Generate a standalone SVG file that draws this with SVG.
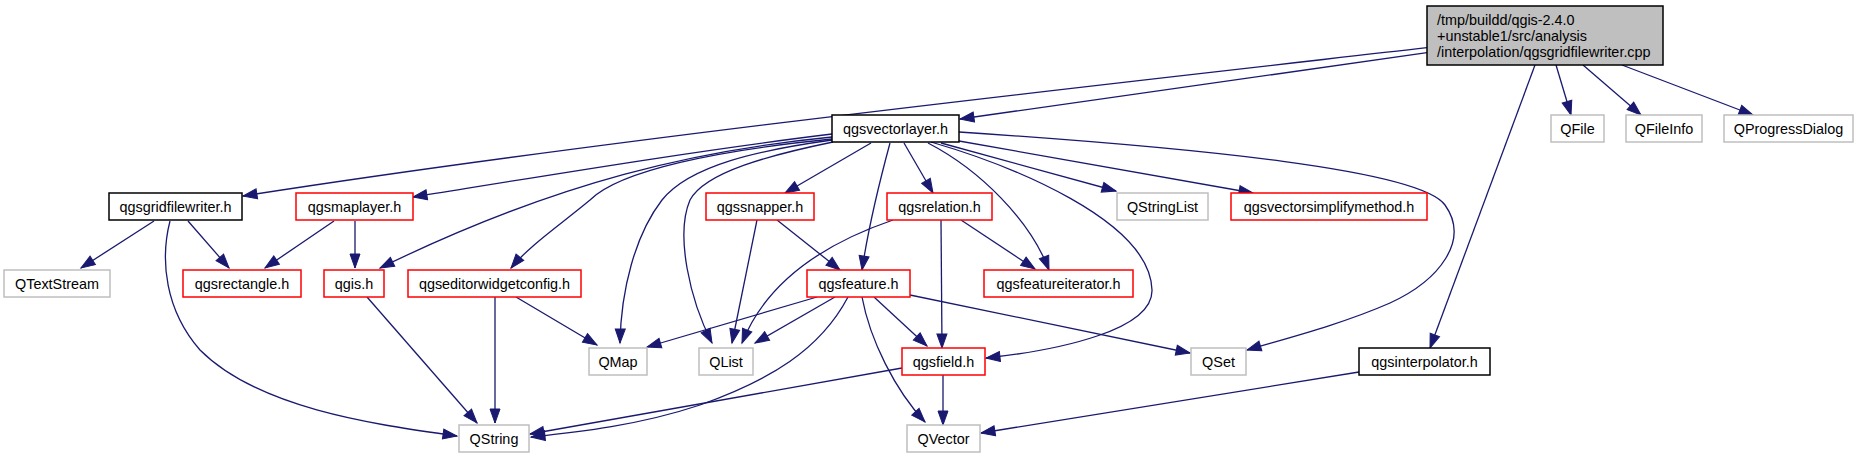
<svg xmlns="http://www.w3.org/2000/svg" width="1859" height="459" viewBox="0 0 1859 459">
<style>
.n rect{fill:#ffffff;stroke-width:1.5}
.b rect{stroke:#000000}
.r rect{stroke:#ff0000}
.g rect{stroke:#bfbfbf}
.top rect{fill:#bfbfbf;stroke:#000000;stroke-width:1.5}
text{font-family:"Liberation Sans",Arial,sans-serif;font-size:14.4px;fill:#000000}
.n text{text-anchor:middle}
#edges path{fill:none;stroke:#191970;stroke-width:1.3;marker-end:url(#ah)}
</style>
<defs>
<marker id="ah" markerUnits="userSpaceOnUse" markerWidth="15" markerHeight="11" refX="14" refY="5" orient="auto" overflow="visible">
<path d="M0,0 L14,5 L0,10 z" fill="#191970" stroke="#191970" stroke-width="1"/>
</marker>
</defs>
<rect x="0" y="0" width="1859" height="459" fill="#ffffff"/>
<g id="edges">
<path d="M1427,47.7 C1100,85 600,140 243,196"/>
<path d="M1427,52.7 L960,119"/>
<path d="M1556,65 L1571,115"/>
<path d="M1583,65 L1641,115"/>
<path d="M1622,65 L1753,115"/>
<path d="M1535,65 L1430,348"/>
<path d="M871,143 L785,193"/>
<path d="M890,143 C880,180 868,230 862,270"/>
<path d="M904,143 L933,193"/>
<path d="M928,143 C980,170 1030,220 1049,270"/>
<path d="M931,142 C1010,165 1150,220 1152,290 C1153,330 1060,350 986,358"/>
<path d="M941,143 L1116,191"/>
<path d="M959,141 L1253,193"/>
<path d="M959,132 C1200,148 1420,170 1445,205 C1470,240 1440,280 1390,303 C1340,325 1280,340 1247,350"/>
<path d="M832,134 C700,150 550,175 413,197"/>
<path d="M832,137 C700,150 560,180 380,268"/>
<path d="M832,139 C720,150 620,170 590,200 C560,225 530,245 511,268"/>
<path d="M832,140 C760,150 690,165 662,200 C635,235 621,290 620,343"/>
<path d="M833,142 C770,155 705,172 690,200 C675,235 690,300 712,343"/>
<path d="M154,221 L81,268"/>
<path d="M188,221 L229,268"/>
<path d="M170,221 C160,260 165,310 200,350 C260,410 380,425 457,436"/>
<path d="M334,221 L265,268"/>
<path d="M355,221 L355,268"/>
<path d="M367,297 L477,423"/>
<path d="M495,297 L495,423"/>
<path d="M516,297 L597,345"/>
<path d="M757,220 L732,343"/>
<path d="M777,220 L840,270"/>
<path d="M893,220 C820,245 765,285 742,343"/>
<path d="M941,220 L942,348"/>
<path d="M961,220 L1035,269"/>
<path d="M817,297 L647,347"/>
<path d="M835,297 L755,343"/>
<path d="M848,297 C820,350 770,380 700,405 C640,425 580,432 531,437"/>
<path d="M862,297 C870,340 895,390 925,422"/>
<path d="M874,297 L927,346"/>
<path d="M910,295 L1190,353"/>
<path d="M902,368 L530,434"/>
<path d="M943,375 L943,425"/>
<path d="M1359,372 L981,433"/>
</g>
<g id="node-cpp" class="top">
<rect x="1427" y="6" width="236" height="59"/>
<text x="1437" y="25">/tmp/buildd/qgis-2.4.0</text>
<text x="1437" y="41">+unstable1/src/analysis</text>
<text x="1437" y="57">/interpolation/qgsgridfilewriter.cpp</text>
</g>
<g id="node-qgsvectorlayer" class="n b"><rect x="832" y="115" width="127" height="27"/><text x="895.5" y="133.5">qgsvectorlayer.h</text></g>
<g id="node-QFile" class="n g"><rect x="1551" y="115" width="53" height="27"/><text x="1577.5" y="133.5">QFile</text></g>
<g id="node-QFileInfo" class="n g"><rect x="1626" y="115" width="76" height="27"/><text x="1664" y="133.5">QFileInfo</text></g>
<g id="node-QProgressDialog" class="n g"><rect x="1724" y="115" width="129" height="27"/><text x="1788.5" y="133.5">QProgressDialog</text></g>
<g id="node-qgsgridfilewriter" class="n b"><rect x="109" y="193" width="133" height="27"/><text x="175.5" y="211.5">qgsgridfilewriter.h</text></g>
<g id="node-qgsmaplayer" class="n r"><rect x="296" y="193" width="117" height="27"/><text x="354.5" y="211.5">qgsmaplayer.h</text></g>
<g id="node-qgssnapper" class="n r"><rect x="706" y="193" width="108" height="27"/><text x="760" y="211.5">qgssnapper.h</text></g>
<g id="node-qgsrelation" class="n r"><rect x="887" y="193" width="105" height="27"/><text x="939.5" y="211.5">qgsrelation.h</text></g>
<g id="node-QStringList" class="n g"><rect x="1117" y="193" width="91" height="27"/><text x="1162.5" y="211.5">QStringList</text></g>
<g id="node-qgsvectorsimplifymethod" class="n r"><rect x="1231" y="193" width="196" height="27"/><text x="1329" y="211.5">qgsvectorsimplifymethod.h</text></g>
<g id="node-QTextStream" class="n g"><rect x="4" y="270" width="106" height="27"/><text x="57" y="288.5">QTextStream</text></g>
<g id="node-qgsrectangle" class="n r"><rect x="183" y="270" width="118" height="27"/><text x="242" y="288.5">qgsrectangle.h</text></g>
<g id="node-qgis" class="n r"><rect x="324" y="270" width="60" height="27"/><text x="354" y="288.5">qgis.h</text></g>
<g id="node-qgseditorwidgetconfig" class="n r"><rect x="408" y="270" width="173" height="27"/><text x="494.5" y="288.5">qgseditorwidgetconfig.h</text></g>
<g id="node-qgsfeature" class="n r"><rect x="807" y="270" width="103" height="27"/><text x="858.5" y="288.5">qgsfeature.h</text></g>
<g id="node-qgsfeatureiterator" class="n r"><rect x="984" y="270" width="149" height="27"/><text x="1058.5" y="288.5">qgsfeatureiterator.h</text></g>
<g id="node-QMap" class="n g"><rect x="589" y="348" width="58" height="27"/><text x="618" y="366.5">QMap</text></g>
<g id="node-QList" class="n g"><rect x="699" y="348" width="54" height="27"/><text x="726" y="366.5">QList</text></g>
<g id="node-qgsfield" class="n r"><rect x="902" y="348" width="83" height="27"/><text x="943.5" y="366.5">qgsfield.h</text></g>
<g id="node-QSet" class="n g"><rect x="1191" y="348" width="55" height="27"/><text x="1218.5" y="366.5">QSet</text></g>
<g id="node-qgsinterpolator" class="n b"><rect x="1359" y="348" width="131" height="27"/><text x="1424.5" y="366.5">qgsinterpolator.h</text></g>
<g id="node-QString" class="n g"><rect x="459" y="425" width="70" height="27"/><text x="494" y="443.5">QString</text></g>
<g id="node-QVector" class="n g"><rect x="907" y="425" width="73" height="27"/><text x="943.5" y="443.5">QVector</text></g>
</svg>
